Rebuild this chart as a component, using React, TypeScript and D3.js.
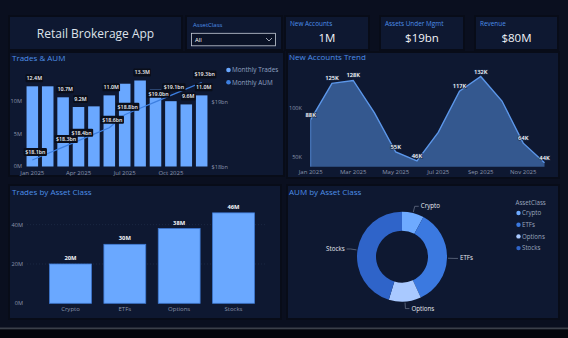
import React from "react";
import * as d3 from "d3";

const months = ["Jan", "Feb", "Mar", "Apr", "May", "Jun", "Jul", "Aug", "Sep", "Oct", "Nov", "Dec"];
const monthlyTrades = [12.4, 12.4, 10.7, 9.2, 9.3, 11.0, 12.8, 13.3, 11.9, 10.1, 9.6, 11.0];
const monthlyAum = [18.1, 18.2, 18.3, 18.4, 18.5, 18.6, 18.8, 18.9, 19.0, 19.1, 19.2, 19.3];
const tradeLabelMonths = ["Jan", "Mar", "Apr", "Jun", "Aug", "Nov", "Dec"];
const aumLabelMonths = ["Jan", "Mar", "Apr", "Jun", "Jul", "Sep", "Oct", "Dec"];
const tradeTicks = [0, 5, 10];
const aumTicks = [18, 19];
const monthTicks = ["Jan", "Apr", "Jul", "Oct"];

const newAccounts = [88, 125, 128, 95, 55, 46, 75, 117, 132, 107, 64, 44];
const accountLabelMonths = ["Jan", "Feb", "Mar", "May", "Jun", "Aug", "Sep", "Nov", "Dec"];
const accountTicks = [50, 100];
const accountMonthTicks = ["Jan", "Mar", "May", "Jul", "Sep", "Nov"];

const assetClasses = ["Crypto", "ETFs", "Options", "Stocks"];
const tradesByClass = [20, 30, 38, 46];
const classTicks = [0, 20, 40];
const aumByClass = [1.5, 6.7, 2.2, 8.6];

const kpiLabels = ["New Accounts", "Assets Under Mgmt", "Revenue"];
const kpiValues = ["1M", "$19bn", "$80M"];

const FONT = "'Open Sans', 'Noto Sans', sans-serif";
const BG = "#0a0f1f";
const PANEL = "#0e1831";
const TITLE = "#4d8fe8";
const AXIS = "#8b95ab";
const BAR = "#6aa8ff";
const LINE = "#3d7fe0";
const pieColors = ["#6eaaff", "#3b79e0", "#a9c9ff", "#2f64c9"];

function Panel({ x, y, w, h }: { x: number; y: number; w: number; h: number }) {
  return (
    <g>
      <rect x={x - 2} y={y - 2} width={w + 4} height={h + 4} fill="#070b16" opacity={0.7} />
      <rect x={x} y={y} width={w} height={h} fill={PANEL} />
    </g>
  );
}

// small dark callout used for the data labels of the combo chart
function LabelBox({ x, y, text }: { x: number; y: number; text: string }) {
  const w = text.length * 2.9 + 3;
  return (
    <g>
      <rect x={x - w / 2} y={y - 4} width={w} height={8} rx={1.2} fill="#0a0e1a" />
      <text x={x} y={y + 1.9} textAnchor="middle" fontSize={5.3} fontWeight={600} fill="#f2f4f8">
        {text}
      </text>
    </g>
  );
}

function TradesAum() {
  const x = d3.scaleBand().domain(months).range([25, 209]).paddingInner(0.25).paddingOuter(0.1);
  const yL = d3.scaleLinear().domain([0, 15]).range([166.5, 69.5]);
  const yR = d3.scaleLinear().domain([18, 19.5]).range([166.5, 69.5]);
  const cx = (m: string) => (x(m) as number) + x.bandwidth() / 2;
  const line = d3
    .line<number>()
    .x((_, i) => cx(months[i]))
    .y((d) => yR(d));
  const fmtT = (v: number) => d3.format(".1f")(v) + "M";
  const fmtA = (v: number) => "$" + d3.format(".1f")(v) + "bn";
  return (
    <g>
      <text x={12} y={60.5} fontSize={8} fill={TITLE}>Trades &amp; AUM</text>
      {tradeTicks.map((t) => (
        <text key={t} x={22} y={yL(t) + 1.5} textAnchor="end" fontSize={5.6} fill={AXIS}>
          {t}M
        </text>
      ))}
      {aumTicks.map((t) => (
        <text key={t} x={211.5} y={yR(t) + 2} fontSize={5.6} fill={AXIS}>
          ${t}bn
        </text>
      ))}
      {monthlyTrades.map((v, i) => (
        <rect key={i} x={x(months[i])} y={yL(v)} width={x.bandwidth()} height={yL(0) - yL(v)} fill={BAR} />
      ))}
      <path d={line(monthlyAum) || ""} fill="none" stroke={LINE} strokeWidth={1.2} />
      {monthTicks.map((m) => (
        <text key={m} x={cx(m)} y={175.3} textAnchor="middle" fontSize={6} fill={AXIS}>
          {m} 2025
        </text>
      ))}
      {months.map((m, i) =>
        tradeLabelMonths.includes(m) ? <LabelBox key={"t" + m} x={cx(m) + 2} y={yL(monthlyTrades[i]) - 8} text={fmtT(monthlyTrades[i])} /> : null
      )}
      {months.map((m, i) =>
        aumLabelMonths.includes(m) ? (
          <LabelBox key={"a" + m} x={cx(m) + 3} y={Math.min(yR(monthlyAum[i]) - 8, 162)} text={fmtA(monthlyAum[i])} />
        ) : null
      )}
      <circle cx={228.5} cy={70} r={2.3} fill={BAR} />
      <text x={232} y={72.3} fontSize={6.4} fill="#8fa0c0">Monthly Trades</text>
      <circle cx={228.5} cy={82.3} r={2.3} fill={LINE} />
      <text x={232} y={84.6} fontSize={6.4} fill="#8fa0c0">Monthly AUM</text>
    </g>
  );
}

function AccountsTrend() {
  const x = d3.scalePoint().domain(months).range([310.7, 544.5]);
  const y = d3.scaleLinear().domain([40, 135]).range([166.7, 73.6]);
  const area = d3
    .area<number>()
    .x((_, i) => x(months[i]) as number)
    .y0(y(40))
    .y1((d) => y(d));
  const line = d3
    .line<number>()
    .x((_, i) => x(months[i]) as number)
    .y((d) => y(d));
  return (
    <g>
      <text x={289} y={59.5} fontSize={8} fill={TITLE}>New Accounts Trend</text>
      {accountTicks.map((t) => (
        <text key={t} x={302} y={y(t) + 2} textAnchor="end" fontSize={5.6} fill={AXIS}>
          {t}K
        </text>
      ))}
      <path d={area(newAccounts) || ""} fill="#34588f" />
      <path d={line(newAccounts) || ""} fill="none" stroke="#5c97ea" strokeWidth={1.4} />
      <line x1={310.7} x2={310.7} y1={y(newAccounts[0])} y2={y(40)} stroke="#5c97ea" strokeWidth={0.8} />
      {accountMonthTicks.map((m) => (
        <text key={m} x={x(m)} y={174} textAnchor="middle" fontSize={6} fill={AXIS}>
          {m} 2025
        </text>
      ))}
      {months.map((m, i) =>
        accountLabelMonths.includes(m) ? (
          <text
            key={m}
            x={x(m)}
            y={Math.min(y(newAccounts[i]) - 3, 167)}
            textAnchor="middle"
            fontSize={5.8}
            fontWeight={600}
            fill="#ffffff"
            stroke="#1a2a48"
            strokeWidth={1.2}
            paintOrder="stroke"
          >
            {newAccounts[i]}K
          </text>
        ) : null
      )}
    </g>
  );
}

function TradesByClass() {
  const x = d3.scaleBand().domain(assetClasses).range([43.3, 260.7]).paddingInner(0.23).paddingOuter(0.115);
  const y = d3.scaleLinear().domain([0, 50]).range([303.3, 205]);
  return (
    <g>
      <text x={12} y={195} fontSize={8} fill={TITLE}>Trades by Asset Class</text>
      {classTicks.map((t) => (
        <g key={t}>
          {t > 0 && (
            <line x1={27} x2={266} y1={y(t)} y2={y(t)} stroke="#24324f" strokeWidth={0.6} strokeDasharray="1,2" />
          )}
          <text x={23} y={y(t) + 2} textAnchor="end" fontSize={5.6} fill={AXIS}>
            {t}M
          </text>
        </g>
      ))}
      {tradesByClass.map((v, i) => {
        const c = assetClasses[i];
        const bx = x(c) as number;
        return (
          <g key={c}>
            <rect x={bx} y={y(v)} width={x.bandwidth()} height={y(0) - y(v)} fill={BAR} stroke="#3f79d2" strokeWidth={0.8} />
            <text x={bx + x.bandwidth() / 2} y={y(v) - 4} textAnchor="middle" fontSize={5.8} fontWeight={700} fill="#f2f4f8">
              {v}M
            </text>
            <text x={bx + x.bandwidth() / 2} y={311} textAnchor="middle" fontSize={6} fill={AXIS}>
              {c}
            </text>
          </g>
        );
      })}
    </g>
  );
}

function AumByClass() {
  const cx = 402;
  const cy = 256.7;
  const pie = d3.pie<number>().sort(null)(aumByClass);
  const arc = d3.arc<d3.PieArcDatum<number>>().innerRadius(26).outerRadius(45);
  const color = d3.scaleOrdinal<string, string>().domain(assetClasses).range(pieColors);
  return (
    <g>
      <text x={289} y={195} fontSize={8} fill={TITLE}>AUM by Asset Class</text>
      <g transform={`translate(${cx},${cy})`}>
        {pie.map((p, i) => (
          <path key={i} d={arc(p) || ""} fill={color(assetClasses[i])} />
        ))}
        {pie.map((p, i) => {
          const a = (p.startAngle + p.endAngle) / 2;
          const s = Math.sin(a);
          const c = -Math.cos(a);
          const p1 = [46 * s, 46 * c];
          const p2 = [52 * s, 52 * c];
          const dir = s >= 0 ? 1 : -1;
          const p3 = [p2[0] + dir * 4, p2[1]];
          return (
            <g key={"l" + i}>
              <polyline points={`${p1} ${p2} ${p3}`} fill="none" stroke="#7f8aa0" strokeWidth={0.6} />
              <text x={p3[0] + dir * 2} y={p3[1] + 2} textAnchor={dir > 0 ? "start" : "end"} fontSize={6.2} fill="#e6e9f0">
                {assetClasses[i]}
              </text>
            </g>
          );
        })}
      </g>
      <text x={515.5} y={205} fontSize={6.2} fill="#9aa6bd">AssetClass</text>
      {assetClasses.map((c, i) => (
        <g key={c}>
          <circle cx={518.5} cy={213 + i * 11.7} r={2.2} fill={color(c)} />
          <text x={522} y={215.2 + i * 11.7} fontSize={6.2} fill="#9aa6bd">
            {c}
          </text>
        </g>
      ))}
    </g>
  );
}

function Header() {
  const cards = [
    { x: 286, w: 82 },
    { x: 381, w: 82 },
    { x: 476, w: 81 },
  ];
  return (
    <g>
      <Panel x={10} y={17} w={171} h={32} />
      <text x={95.5} y={37.5} textAnchor="middle" fontSize={12} fill="#dde2ea">Retail Brokerage App</text>
      <Panel x={187} y={17} w={94} h={32} />
      <text x={193} y={27.3} fontSize={6} fill={TITLE}>AssetClass</text>
      <rect x={191.5} y={33.3} width={84} height={12.5} fill="#0a1226" stroke="#c5ccd8" strokeWidth={0.8} />
      <text x={195} y={42} fontSize={6} fill="#ffffff">All</text>
      <polyline points="266,38 269,41 272,38" fill="none" stroke="#c5ccd8" strokeWidth={0.8} />
      {cards.map((c, i) => (
        <g key={i}>
          <Panel x={c.x} y={17} w={c.w} h={32} />
          <text x={c.x + 4} y={25.5} fontSize={6.4} fill={TITLE}>{kpiLabels[i]}</text>
          <text x={c.x + c.w / 2} y={42} textAnchor="middle" fontSize={11.5} fill="#f2f4f8">
            {kpiValues[i]}
          </text>
        </g>
      ))}
    </g>
  );
}

export default function App() {
  return (
    <svg
      width={568}
      height={338}
      style={{ position: "absolute", left: 0, top: 0, display: "block" }}
      fontFamily={FONT}
    >
      <rect width={568} height={338} fill={BG} />
      <Header />
      <Panel x={10} y={53} w={273} h={122} />
      <Panel x={288} y={53} w={270} h={124} />
      <Panel x={10} y={186} w={270} h={132} />
      <Panel x={288} y={186} w={270} h={132} />
      <TradesAum />
      <AccountsTrend />
      <TradesByClass />
      <AumByClass />
      <rect x={0} y={327.5} width={568} height={2} fill="#3a3f49" />
      <rect x={0} y={329.5} width={568} height={8.5} fill="#04060d" />
    </svg>
  );
}
